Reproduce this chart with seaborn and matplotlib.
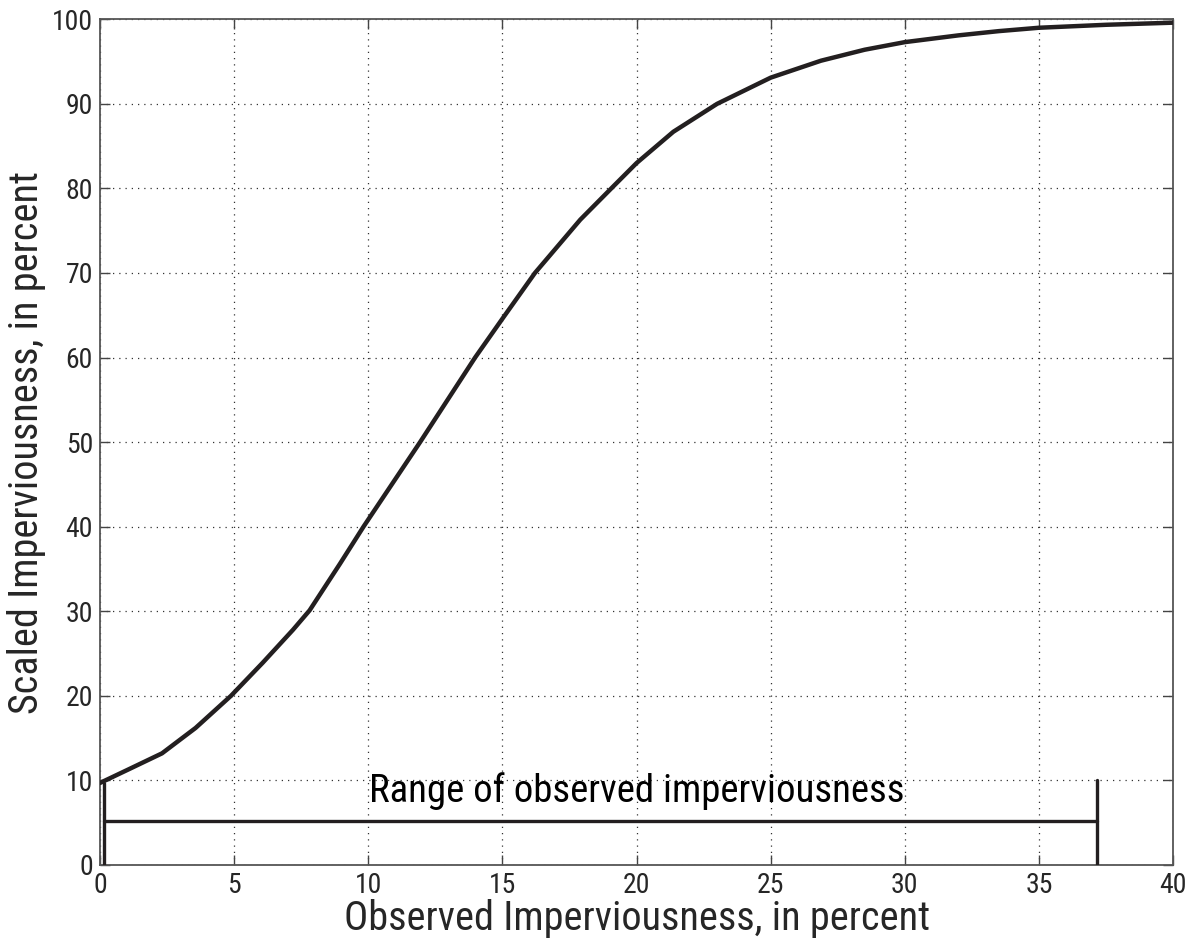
import matplotlib
matplotlib.use("Agg")
import matplotlib.pyplot as plt
import matplotlib.font_manager as fm
import seaborn as sns
import pandas as pd

# Data
observed = [0, 1.06, 2.31, 3.56, 4.88, 6.06, 7.19, 7.81, 8.94, 9.82, 11.93, 13.98,
            15.0, 16.21, 17.9, 19.15, 20.0, 21.37, 23.0, 25.0, 26.87, 28.5, 30.0,
            32.0, 33.5, 35.0, 37.5, 40.0]
scaled = [9.7, 11.3, 13.2, 16.2, 20.0, 23.9, 27.8, 30.1, 35.6, 40.0, 50.0, 60.0,
          64.6, 70.0, 76.3, 80.3, 83.0, 86.7, 90.0, 93.1, 95.1, 96.4, 97.3,
          98.1, 98.6, 99.0, 99.35, 99.6]
range_min = 0.15
range_max = 37.15
range_level = 5.2
range_top = 10
range_label = "Range of observed imperviousness"
x_ticks = [0, 5, 10, 15, 20, 25, 30, 35, 40]
y_ticks = [0, 10, 20, 30, 40, 50, 60, 70, 80, 90, 100]
x_label = "Observed Imperviousness, in percent"
y_label = "Scaled Imperviousness, in percent"

sns.set_theme(style="white")
names = {f.name for f in fm.fontManager.ttflist}
fam = [f for f in ["Liberation Sans Narrow", "Roboto Condensed", "DejaVu Sans Condensed", "DejaVu Sans"] if f in names]
plt.rcParams['font.family'] = fam
plt.rcParams['font.stretch'] = 'condensed'

df = pd.DataFrame({"observed": observed, "scaled": scaled})

fig = plt.figure(figsize=(11.91, 9.41), dpi=100)
ax = fig.add_axes([0.084, 0.0808, 0.901, 0.8987])

sns.lineplot(data=df, x="observed", y="scaled", ax=ax, color="#231f20",
             linewidth=3.2, sort=True, zorder=5,
             solid_joinstyle="round", solid_capstyle="round")

# Range bar
ax.plot([range_min, range_max], [range_level, range_level], color="#231f20", lw=2.4, zorder=4)
ax.plot([range_min, range_min], [0, scaled[0]], color="#231f20", lw=2.4, zorder=4)
ax.plot([range_max, range_max], [0, range_top], color="#231f20", lw=2.4, zorder=4)
ax.text((x_ticks[2] + x_ticks[6]) / 2, 7.5, range_label, ha="center", va="baseline",
        fontsize=28, color="black", zorder=6)

ax.set_xlim(0, 40)
ax.set_ylim(0, 100)
ax.set_xticks(x_ticks)
ax.set_yticks(y_ticks)
ax.set_xticklabels([str(t) for t in x_ticks], fontsize=20)
ax.set_yticklabels([str(t) for t in y_ticks], fontsize=20)
ax.set_xlabel(x_label, fontsize=29, labelpad=0)
ax.set_ylabel(y_label, fontsize=29, labelpad=4)

ax.grid(True, linestyle=(0, (1, 4)), color="#333333", linewidth=0.9)
ax.tick_params(direction="in", length=7, width=1, color="#444444",
               top=True, right=True, bottom=True, left=True, pad=5)
for s in ax.spines.values():
    s.set_color("#555555")
    s.set_linewidth(1.3)
    s.set_visible(True)

fig.savefig("out.png", dpi=100)
